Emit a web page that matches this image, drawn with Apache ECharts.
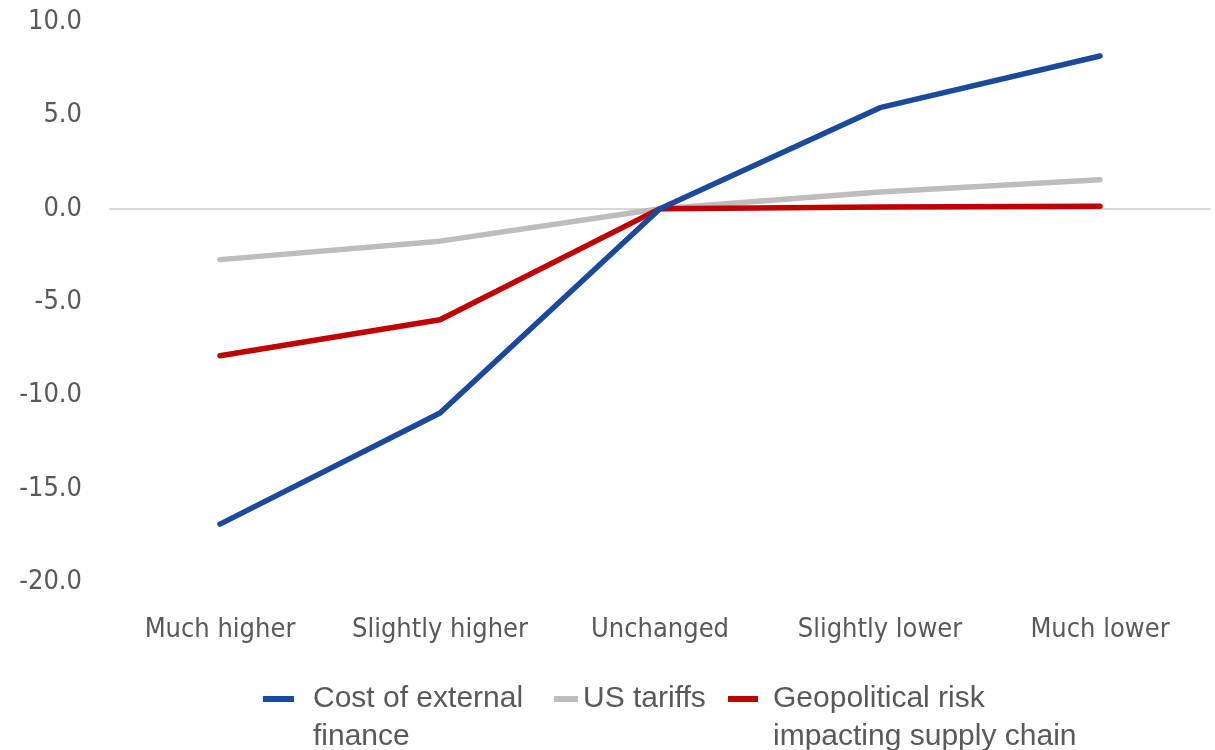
<!DOCTYPE html>
<html>
<head>
<meta charset="utf-8">
<script src="https://cdn.jsdelivr.net/npm/echarts@6/dist/echarts.min.js"></script>
<style>html,body{margin:0;padding:0;background:#fff}#c{width:1215px;height:750px}</style>
</head>
<body>
<div id="c"></div>
<script>
const categories = ['Much higher', 'Slightly higher', 'Unchanged', 'Slightly lower', 'Much lower'];
const costOfExternalFinance = [-16.9, -10.95, 0.0, 5.41, 8.18];
const usTariffs = [-2.73, -1.74, 0.0, 0.89, 1.55];
const geopoliticalRisk = [-7.88, -5.95, 0.0, 0.09, 0.13];
const seriesNames = ['Cost of external\nfinance', 'US tariffs', 'Geopolitical risk\nimpacting supply chain'];
const yTicks = { min: -20, max: 10, interval: 5 };

const AXFONT = "'DejaVu Sans Condensed', 'Liberation Sans Narrow', sans-serif";
const LGFONT = "'Liberation Sans', Arial, sans-serif";
const TXT = '#595959';
const AXFS = 27;
const LGFS = 30;
const LH = 38;
const ROW1 = 699;
const colors = ['#1B4A9C', '#BDBDBD', '#C00000'];

const chart = echarts.init(document.getElementById('c'));
function mkLegend(name, left, w, color, padLeft) {
  const multi = name.indexOf('\n') >= 0;
  return {
    left: left, top: multi ? ROW1 - 1.5 * LH - 5 : ROW1 - 0.5 * LH - 5, orient: 'horizontal',
    itemWidth: w, itemHeight: 6, itemGap: 0,
    icon: 'rect',
    data: [{ name: name, itemStyle: { color: color } }],
    formatter: n => (multi ? ' \n' + n : n),
    textStyle: { fontFamily: LGFONT, fontSize: LGFS, color: TXT, lineHeight: LH, padding: [0, 0, 0, padLeft] },
    selectedMode: false
  };
}
chart.setOption({
  animation: false,
  color: colors,
  grid: { left: 110, right: 5, top: 22, bottom: 168, containLabel: false },
  legend: [
    mkLegend(seriesNames[0], 258, 31, colors[0], 14),
    mkLegend(seriesNames[1], 549, 24, colors[1], 0),
    mkLegend(seriesNames[2], 723, 30, colors[2], 10)
  ],
  xAxis: [
    {
      type: 'category', data: categories, boundaryGap: true, position: 'bottom',
      axisLine: { show: false, onZero: false }, axisTick: { show: false },
      axisLabel: { fontFamily: AXFONT, fontSize: AXFS, color: TXT, margin: 34, interval: 0 }
    },
    {
      type: 'category', data: categories, boundaryGap: true,
      axisLine: { show: true, onZero: true, lineStyle: { color: '#D9D9D9', width: 2 } },
      axisTick: { show: false }, axisLabel: { show: false }
    }
  ],
  yAxis: {
    type: 'value', min: yTicks.min, max: yTicks.max, interval: yTicks.interval,
    splitLine: { show: false }, axisLine: { show: false }, axisTick: { show: false },
    axisLabel: { fontFamily: AXFONT, fontSize: AXFS, color: TXT, margin: 28, formatter: v => v.toFixed(1) }
  },
  series: [
    { name: seriesNames[1], type: 'line', data: usTariffs, symbol: 'none', lineStyle: { width: 5.5, color: colors[1], cap: 'round' }, z: 2 },
    { name: seriesNames[2], type: 'line', data: geopoliticalRisk, symbol: 'none', lineStyle: { width: 5.5, color: colors[2], cap: 'round' }, z: 3 },
    { name: seriesNames[0], type: 'line', data: costOfExternalFinance, symbol: 'none', lineStyle: { width: 5.5, color: colors[0], cap: 'round' }, z: 4 }
  ]
});
</script>
</body>
</html>
